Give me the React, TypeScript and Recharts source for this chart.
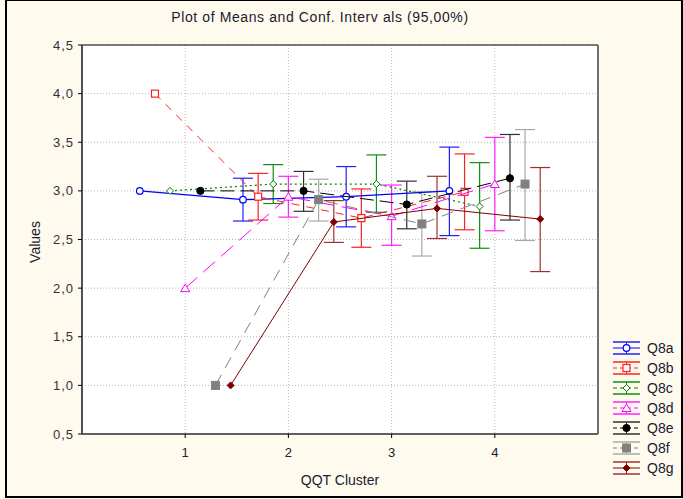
import React from 'react';
import { ScatterChart, Scatter, XAxis, YAxis, CartesianGrid, ErrorBar, ReferenceLine } from 'recharts';

const clusters = [1, 2, 3, 4];
const xTicks = [1, 2, 3, 4];
const yTicks = [0.5, 1.0, 1.5, 2.0, 2.5, 3.0, 3.5, 4.0, 4.5];

const q8aMean = [3.0, 2.91, 2.94, 3.0];
const q8aLow = [null, 2.69, 2.63, 2.54];
const q8aHigh = [null, 3.13, 3.25, 3.45];

const q8bMean = [4.0, 2.94, 2.72, 2.99];
const q8bLow = [null, 2.7, 2.42, 2.6];
const q8bHigh = [null, 3.18, 3.02, 3.38];

const q8cMean = [3.0, 3.07, 3.07, 2.84];
const q8cLow = [null, 2.87, 2.78, 2.41];
const q8cHigh = [null, 3.27, 3.37, 3.29];

const q8dMean = [2.0, 2.94, 2.74, 3.07];
const q8dLow = [null, 2.73, 2.44, 2.59];
const q8dHigh = [null, 3.15, 3.06, 3.55];

const q8eMean = [3.0, 3.0, 2.86, 3.13];
const q8eLow = [null, 2.79, 2.61, 2.7];
const q8eHigh = [null, 3.2, 3.1, 3.58];

const q8fMean = [1.0, 2.91, 2.66, 3.07];
const q8fLow = [null, 2.69, 2.33, 2.49];
const q8fHigh = [null, 3.12, 2.99, 3.63];

const q8gMean = [1.0, 2.68, 2.82, 2.71];
const q8gLow = [null, 2.47, 2.51, 2.17];
const q8gHigh = [null, 2.9, 3.15, 3.24];

type Shape = 'circle' | 'square' | 'diamond' | 'triangle' | 'dot' | 'fsquare' | 'fdiamond';

const series = [
  { name: 'Q8a', mean: q8aMean, low: q8aLow, high: q8aHigh, offset: -0.44, color: '#0000ff', errColor: '#2020ff', dash: undefined, width: 1.3, shape: 'circle' as Shape },
  { name: 'Q8b', mean: q8bMean, low: q8bLow, high: q8bHigh, offset: -0.293, color: '#ff2020', errColor: '#ff2020', dash: '8 7', width: 1, shape: 'square' as Shape },
  { name: 'Q8c', mean: q8cMean, low: q8cLow, high: q8cHigh, offset: -0.147, color: '#008000', errColor: '#109010', dash: '2 3', width: 1.2, shape: 'diamond' as Shape },
  { name: 'Q8d', mean: q8dMean, low: q8dLow, high: q8dHigh, offset: 0, color: '#ff00ff', errColor: '#ff20ff', dash: '16 8', width: 1, shape: 'triangle' as Shape },
  { name: 'Q8e', mean: q8eMean, low: q8eLow, high: q8eHigh, offset: 0.147, color: '#000000', errColor: '#303030', dash: '14 6', width: 1, shape: 'dot' as Shape },
  { name: 'Q8f', mean: q8fMean, low: q8fLow, high: q8fHigh, offset: 0.293, color: '#808080', errColor: '#a8a8a8', dash: '12 8', width: 1, shape: 'fsquare' as Shape },
  { name: 'Q8g', mean: q8gMean, low: q8gLow, high: q8gHigh, offset: 0.44, color: '#800000', errColor: '#a03030', dash: undefined, width: 1, shape: 'fdiamond' as Shape },
];

function buildData(s: typeof series[number]) {
  return clusters.map((c, i) => ({
    x: c + s.offset,
    y: s.mean[i],
    err: s.low[i] == null ? null : [s.mean[i] - (s.low[i] as number), (s.high[i] as number) - s.mean[i]],
  }));
}

function Marker({ cx, cy, shape, color }: { cx: number; cy: number; shape: Shape; color: string }) {
  switch (shape) {
    case 'circle':
      return <circle cx={cx} cy={cy} r={3.3} fill="#fff" stroke={color} strokeWidth={1.2} />;
    case 'square':
      return <rect x={cx - 3.5} y={cy - 3.5} width={7} height={7} fill="#fff" stroke={color} strokeWidth={1.2} />;
    case 'diamond':
      return <polygon points={`${cx},${cy - 3.5} ${cx + 3.5},${cy} ${cx},${cy + 3.5} ${cx - 3.5},${cy}`} fill="#fff" stroke={color} strokeWidth={1} />;
    case 'triangle':
      return <polygon points={`${cx},${cy - 4} ${cx + 4.5},${cy + 3.5} ${cx - 4.5},${cy + 3.5}`} fill="#fff" stroke={color} strokeWidth={1} />;
    case 'dot':
      return <circle cx={cx} cy={cy} r={3.6} fill={color} stroke={color} />;
    case 'fsquare':
      return <rect x={cx - 4} y={cy - 4} width={8} height={8} fill={color} stroke={color} />;
    case 'fdiamond':
      return <polygon points={`${cx},${cy - 3.5} ${cx + 3.5},${cy} ${cx},${cy + 3.5} ${cx - 3.5},${cy}`} fill={color} stroke={color} />;
  }
  return null;
}

const fmt = (v: number) => v.toFixed(1).replace('.', ',');

const FONT = '"Liberation Sans", Arial, sans-serif';

function LegendBox() {
  return (
    <div style={{ position: 'absolute', left: 612, top: 338, fontFamily: FONT, fontSize: 14, color: '#202030' }}>
      {series.map((s) => (
        <div key={s.name} style={{ display: 'flex', alignItems: 'center', height: 20 }}>
          <svg width={30} height={20}>
            <line x1={1} x2={28} y1={4} y2={4} stroke={s.errColor} strokeWidth={1.5} />
            <line x1={1} x2={28} y1={16} y2={16} stroke={s.errColor} strokeWidth={1.5} />
            <line x1={14.5} x2={14.5} y1={4} y2={16} stroke={s.errColor} strokeWidth={1} />
            <line x1={1} x2={28} y1={10} y2={10} stroke={s.color} strokeWidth={1} strokeDasharray={s.dash ? '4 3' : undefined} />
            <Marker cx={14.5} cy={10} shape={s.shape} color={s.color} />
          </svg>
          <span style={{ marginLeft: 5 }}>{s.name}</span>
        </div>
      ))}
    </div>
  );
}

export default function App() {
  return (
    <div style={{ position: 'fixed', left: 0, top: 0, width: 683, height: 499, background: '#fffaee', overflow: 'hidden' }}>
      <div style={{ position: 'absolute', left: 0, top: 0 }}>
        <ScatterChart width={683} height={499} margin={{ top: 45, right: 85, bottom: 0, left: 0 }}>
          <CartesianGrid stroke="#b8b8b8" strokeDasharray="1 2" fill="#ffffff" />
          <XAxis
            type="number"
            dataKey="x"
            domain={[0, 5]}
            ticks={xTicks}
            height={65}
            axisLine={{ stroke: '#606060', strokeWidth: 2 }}
            tickLine={{ stroke: '#000' }}
            tickSize={4}
            tick={{ fill: '#202030', fontSize: 13, fontFamily: FONT, dy: 8 }}
            allowDataOverflow
          />
          <YAxis
            type="number"
            dataKey="y"
            domain={[0.5, 4.5]}
            ticks={yTicks}
            width={82}
            tickFormatter={fmt}
            axisLine={{ stroke: '#505050', strokeWidth: 2 }}
            tickLine={{ stroke: '#000' }}
            tickSize={4}
            tick={{ fill: '#303040', fontSize: 13, fontFamily: FONT, dx: -2, letterSpacing: 1 }}
            allowDataOverflow
          />
          <ReferenceLine y={4.5} stroke="#000" strokeWidth={1.2} />
          <ReferenceLine x={5} stroke="#707070" strokeWidth={2} />
          {series.map((s) => (
            <Scatter
              key={s.name}
              name={s.name}
              data={buildData(s)}
              isAnimationActive={false}
              line={{ stroke: s.color, strokeWidth: s.width, strokeDasharray: s.dash }}
              shape={(p: any) => <Marker cx={p.cx} cy={p.cy} shape={s.shape} color={s.color} />}
            >
              <ErrorBar dataKey="err" direction="y" width={10} stroke={s.errColor} strokeWidth={1.2} isAnimationActive={false} />
            </Scatter>
          ))}
        </ScatterChart>
      </div>
      <div style={{ position: 'absolute', left: 0, width: 640, top: 9, textAlign: 'center', fontFamily: FONT, fontSize: 14, color: '#202030', letterSpacing: 0.6 }}>
        Plot of Means and Conf. Interv als (95,00%)
      </div>
      <div style={{ position: 'absolute', left: 35, top: 242, transform: 'translate(-50%, -50%) rotate(-90deg)', fontFamily: FONT, fontSize: 14, color: '#202030' }}>
        Values
      </div>
      <div style={{ position: 'absolute', left: 340, top: 480, transform: 'translate(-50%, -50%)', fontFamily: FONT, fontSize: 14, color: '#202030', whiteSpace: 'nowrap' }}>
        QQT Cluster
      </div>
      <LegendBox />
      <div style={{ position: 'absolute', left: 5, top: -1, width: 678, height: 499, border: '2px solid #000', boxSizing: 'border-box' }} />
    </div>
  );
}
